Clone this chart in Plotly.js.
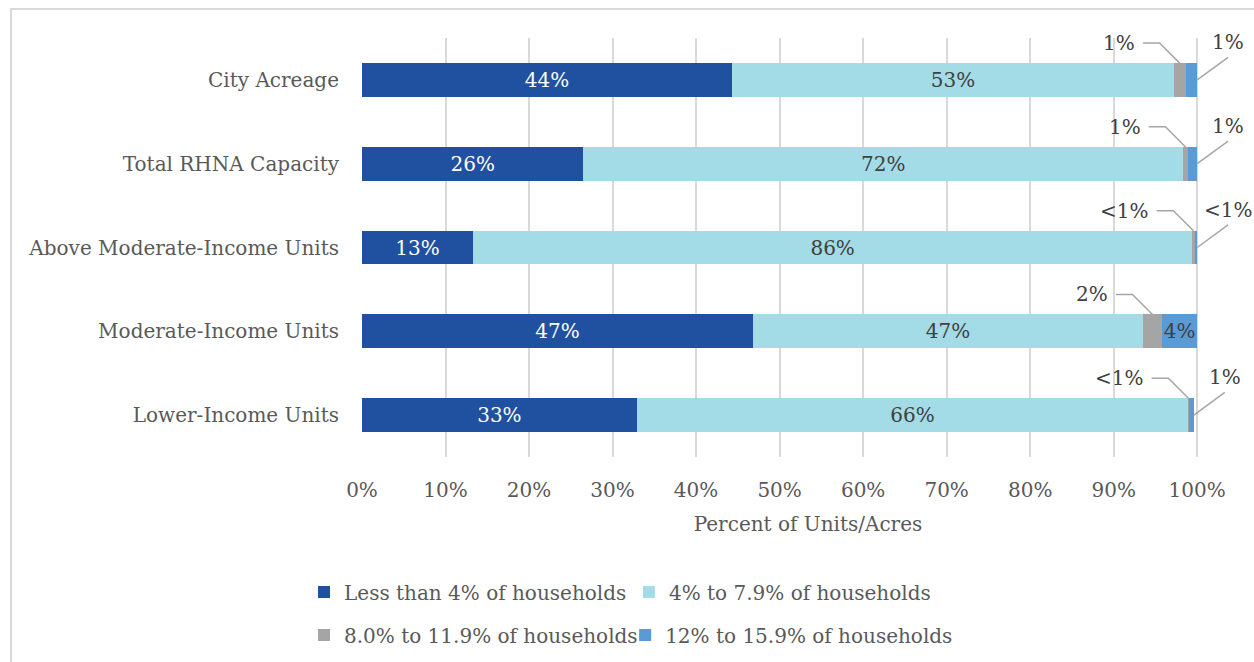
<!DOCTYPE html>
<html>
<head>
<meta charset="utf-8">
<script src="https://cdn.plot.ly/plotly-3.0.1.min.js"></script>
<style>
  html, body { margin: 0; padding: 0; background: #ffffff; overflow: hidden; }
  #chart { position: absolute; left: 0; top: 0; width: 1254px; height: 662px; }
  #frame { position: absolute; left: 10px; top: 8px; width: 1300px; height: 700px;
           border: 2px solid #D9D9D9; pointer-events: none; }
</style>
</head>
<body>
<div id="chart"></div>
<div id="frame"></div>
<script>
// ---- data ----
const categories = ['City Acreage', 'Total RHNA Capacity', 'Above Moderate-Income Units',
                    'Moderate-Income Units', 'Lower-Income Units'];
const seriesNames = ['Less than 4% of households', '4% to 7.9% of households',
                     '8.0% to 11.9% of households', '12% to 15.9% of households'];
const lessThan4 = [44.3, 26.5, 13.3, 46.8, 32.9];
const from4to79 = [52.9, 71.8, 86.1, 46.7, 66.0];
const from8to119 = [1.4, 0.6, 0.3, 2.3, 0.1];
const from12to159 = [1.4, 1.1, 0.3, 4.2, 0.6];
const lessThan4Labels = ['44%', '26%', '13%', '47%', '33%'];
const from4to79Labels = ['53%', '72%', '86%', '47%', '66%'];
const from8to119Labels = ['1%', '1%', '<1%', '2%', '<1%'];
const from12to159Labels = ['1%', '1%', '<1%', '4%', '1%'];
const xTickVals = [0, 10, 20, 30, 40, 50, 60, 70, 80, 90, 100];
const xTickText = ['0%', '10%', '20%', '30%', '40%', '50%', '60%', '70%', '80%', '90%', '100%'];

// ---- styles ----
const FONT = 'DejaVu Serif, Liberation Serif, serif';
const FS = 20;
const TXT = '#595959';
const DARKTXT = '#404040';
const colors = ['#1F51A0', '#A3DBE7', '#A5A5A5', '#5B9BD5'];
const LEADER = '#A6A6A6';
const INSIDE_MIN = 3;

const values = [lessThan4, from4to79, from8to119, from12to159];
const labels = [lessThan4Labels, from4to79Labels, from8to119Labels, from12to159Labels];
const insideColors = ['#FFFFFF', DARKTXT, DARKTXT, DARKTXT];
const legendIds = ['legend', 'legend2', 'legend3', 'legend4'];

const traces = values.map((vals, s) => ({
  type: 'bar',
  orientation: 'h',
  name: seriesNames[s],
  y: categories,
  x: vals,
  marker: { color: colors[s], line: { width: 0 } },
  text: vals.map((v, i) => v >= INSIDE_MIN ? labels[s][i] : ''),
  textposition: 'inside',
  insidetextanchor: 'middle',
  constraintext: 'none',
  textangle: 0,
  textfont: { family: FONT, size: FS, color: insideColors[s] },
  hoverinfo: 'skip',
  legend: legendIds[s]
}));

// ---- callouts for small segments ----
const shapes = [];
const annotations = [];
const halfBar = 0.2;
categories.forEach((c, i) => {
  const c1 = lessThan4[i] + from4to79[i];
  const c2 = c1 + from8to119[i];
  const c3 = c2 + from12to159[i];
  // gray segment: elbow leader to the upper left
  if (from8to119[i] < INSIDE_MIN) {
    const xm = (c1 + c2) / 2;
    const yl = i - 0.44;
    const xe = xm - 2.4;
    const xs = xe - 2.0;
    shapes.push({
      type: 'path', xref: 'x', yref: 'y',
      path: `M ${xm},${i - halfBar} L ${xe},${yl} L ${xs},${yl}`,
      line: { color: LEADER, width: 1.5 }
    });
    annotations.push({
      xref: 'x', yref: 'y', x: xs, y: yl, xanchor: 'right', yanchor: 'middle', xshift: -6,
      text: from8to119Labels[i], showarrow: false,
      font: { family: FONT, size: FS, color: DARKTXT }
    });
  }
  // blue segment: straight leader to the upper right
  if (from12to159[i] < INSIDE_MIN) {
    const xe = c3 + 3.7;
    shapes.push({
      type: 'line', xref: 'x', yref: 'y',
      x0: c3, y0: i, x1: xe, y1: i - 0.27,
      line: { color: LEADER, width: 1.5 }
    });
    annotations.push({
      xref: 'x', yref: 'y', x: xe, y: i - 0.45, xanchor: 'center', yanchor: 'middle',
      text: from12to159Labels[i], showarrow: false,
      font: { family: FONT, size: FS, color: DARKTXT }
    });
  }
});

function legendAt(x, y) {
  return {
    orientation: 'h', xanchor: 'left', yanchor: 'middle', x: x, y: y,
    itemwidth: 30,
    font: { family: FONT, size: FS, color: TXT },
    bgcolor: 'rgba(0,0,0,0)'
  };
}

const layout = {
  width: 1254, height: 662,
  margin: { l: 362, r: 0, t: 38, b: 205 },
  paper_bgcolor: '#FFFFFF', plot_bgcolor: '#FFFFFF',
  barmode: 'stack',
  bargap: 0.595,
  font: { family: FONT, size: FS, color: TXT },
  xaxis: {
    range: [0, 106.8],
    tickvals: xTickVals, ticktext: xTickText,
    showgrid: true, gridcolor: '#D9D9D9', gridwidth: 2,
    zeroline: false, showline: false, ticks: '',
    ticklabelstandoff: 19,
    tickfont: { family: FONT, size: FS, color: TXT },
    title: { text: 'Percent of Units/Acres', standoff: 15,
             font: { family: FONT, size: FS, color: TXT } },
    fixedrange: true
  },
  yaxis: {
    type: 'category',
    categoryorder: 'array', categoryarray: categories,
    range: [categories.length - 0.5, -0.5],
    showgrid: false, zeroline: false, showline: false, ticks: '',
    ticklabelstandoff: 22,
    tickfont: { family: FONT, size: FS, color: TXT },
    fixedrange: true
  },
  legend: legendAt(-0.065, -0.322),
  legend2: legendAt(0.2993, -0.322),
  legend3: legendAt(-0.065, -0.425),
  legend4: legendAt(0.295, -0.425),
  shapes: shapes,
  annotations: annotations,
  showlegend: true
};

Plotly.newPlot('chart', traces, layout, { displayModeBar: false, staticPlot: true });
</script>
</body>
</html>
